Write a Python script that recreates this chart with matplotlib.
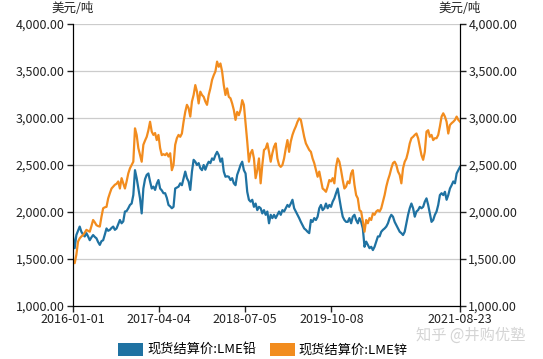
import numpy as np
import pandas as pd
import matplotlib
matplotlib.use("Agg")
import matplotlib.pyplot as plt
from matplotlib.patches import Patch
from matplotlib.ticker import FuncFormatter

plt.rcParams['font.family'] = ['Noto Sans CJK SC', 'DejaVu Sans']

# LME spot settlement price, USD/t (evenly spaced samples)
lead = [1740, 1615, 1755, 1800, 1845, 1790, 1760, 1740, 1775, 1740, 1700, 1730, 1755, 1735,
        1720, 1680, 1650, 1690, 1700, 1760, 1825, 1800, 1810, 1830, 1845, 1810, 1825, 1870,
        1915, 1880, 1900, 2005, 2010, 2040, 2075, 2090, 2180, 2445, 2360, 2250, 2145, 1985,
        2250, 2350, 2395, 2410, 2325, 2250, 2270, 2235, 2300, 2340, 2250, 2230, 2200,
        2200, 2150, 2075, 2060, 2040, 2055, 2250, 2260, 2270, 2305, 2285, 2360, 2430, 2360,
        2325, 2235, 2430, 2555, 2535, 2500, 2520, 2465, 2445, 2500, 2450, 2500, 2535, 2520,
        2570, 2555, 2605, 2640, 2605, 2535, 2570, 2430, 2375, 2380, 2375, 2340, 2360, 2305,
        2285, 2395, 2445, 2500, 2535, 2445, 2410, 2215, 2130, 2110, 2130, 2055, 2090, 2020, 2055,
        2040, 1985, 2020, 1970, 2005, 1880, 1970, 1935, 1970, 1935, 1970, 2005, 1970, 2020,
        2005, 2040, 2075, 2055, 2090, 2130, 2040, 2005, 1970, 1935, 1895, 1860, 1825, 1810,
        1790, 1775, 1915, 1895, 1935, 1915, 1950, 2040, 2075, 2020, 2040, 2090, 2040, 2075,
        2055, 2110, 2145, 2200, 2250, 2145, 2040, 1950, 1915, 1895, 1895, 1935, 1880, 1950, 1970,
        1915, 1880, 1935, 1895, 1825, 1630, 1685, 1650, 1615, 1630, 1595, 1630, 1685, 1740,
        1740, 1790, 1810, 1825, 1845, 1880, 1935, 1970, 1950, 1895, 1860, 1825, 1790, 1775,
        1755, 1790, 1880, 1970, 2040, 2090, 2040, 1950, 2005, 2020, 2055, 2040, 2055, 2110,
        2145, 2075, 1985, 1895, 1915, 1970, 2005, 2075, 2180, 2200, 2180, 2215, 2130, 2180,
        2250, 2285, 2325, 2305, 2410, 2445, 2480]

zinc = [1490, 1455, 1545, 1685, 1720, 1740, 1755, 1780, 1810, 1800, 1790, 1850, 1915, 1890,
        1860, 1850, 1845, 1950, 2040, 2050, 2055, 2145, 2200, 2250, 2270, 2290, 2300, 2325,
        2250, 2360, 2305, 2250, 2325, 2410, 2465, 2500, 2535, 2890, 2820, 2680, 2605, 2535,
        2715, 2760, 2800, 2870, 2960, 2855, 2820, 2840, 2765, 2820, 2680, 2605, 2615,
        2605, 2625, 2590, 2625, 2445, 2500, 2715, 2785, 2820, 2800, 2835, 2960, 3065, 3140,
        3105, 3015, 3175, 3245, 3350, 3280, 3155, 3280, 3245, 3225, 3175, 3140, 3245, 3315,
        3405, 3455, 3495, 3600, 3545, 3580, 3495, 3350, 3245, 3315, 3225, 3210, 3155, 3085,
        2980, 3065, 3030, 3085, 3190, 3140, 2945, 2750, 2535, 2625, 2660, 2570, 2360, 2445, 2570,
        2305, 2500, 2660, 2675, 2730, 2640, 2535, 2625, 2695, 2730, 2570, 2500, 2480, 2500,
        2570, 2675, 2765, 2640, 2750, 2820, 2870, 2910, 2960, 2995, 2980, 2890, 2800, 2730,
        2695, 2660, 2640, 2570, 2520, 2445, 2375, 2430, 2340, 2250, 2235, 2215, 2270, 2340,
        2325, 2360, 2305, 2480, 2570, 2535, 2445, 2340, 2250, 2270, 2325, 2305, 2410, 2445, 2290,
        2180, 2145, 2020, 2005, 1895, 1790, 1915, 1880, 1935, 1915, 1985, 1970, 2005, 2020,
        2005, 2040, 2110, 2180, 2270, 2340, 2395, 2465, 2520, 2535, 2500, 2430, 2395, 2305,
        2465, 2535, 2570, 2640, 2730, 2785, 2800, 2820, 2835, 2785, 2695, 2605, 2555, 2640,
        2855, 2870, 2800, 2820, 2765, 2785, 2785, 2820, 2910, 3015, 3050, 3015, 2960, 2835,
        2925, 2945, 2960, 2980, 3015, 2980, 2960]

start, end = "2016-01-01", "2021-08-23"
dates = pd.date_range(start, end, periods=len(lead))
tick_labels = ["2016-01-01", "2017-04-04", "2018-07-05", "2019-10-08", "2021-08-23"]
series_names = ["现货结算价:LME铅", "现货结算价:LME锌"]
colors = ["#1f72a2", "#f28c1e"]
unit = "美元/吨"

fig = plt.figure(figsize=(5.43, 3.59), dpi=100)
ax = fig.add_axes([73 / 543, 1 - 306 / 359, 387 / 543, 282 / 359])
ax2 = ax.twinx()

ax.plot(dates, lead, color=colors[0], lw=1.6, zorder=3)
ax.plot(dates, zinc, color=colors[1], lw=1.6, zorder=3)

fmt = FuncFormatter(lambda v, p: f"{v:,.2f}")
for a in (ax, ax2):
    a.set_ylim(1000, 4000)
    a.set_yticks(np.arange(1000, 4001, 500))
    a.yaxis.set_major_formatter(fmt)
    a.tick_params(axis='y', length=4, width=1, labelsize=9, colors='#222222', pad=2)
    a.spines["top"].set_visible(False)
    a.spines["left"].set_color("black")
    a.spines["right"].set_color("black")
    a.spines["bottom"].set_color("black")

ax.yaxis.grid(True, color="#cccccc", lw=0.9)
ax.set_axisbelow(True)

ax.set_xlim(pd.Timestamp(start), pd.Timestamp(end))
ax.set_xticks(pd.to_datetime(tick_labels))
ax.set_xticklabels(tick_labels)
ax.tick_params(axis='x', length=4, width=1, labelsize=9, colors='#222222', pad=1)

fig.text(73 / 543, 1 - 8 / 359, unit, ha='center', va='center', fontsize=9, color='#222222')
fig.text(460 / 543, 1 - 8 / 359, unit, ha='center', va='center', fontsize=9, color='#222222')

handles = [Patch(facecolor=c, edgecolor='none') for c in colors]
fig.legend(handles, series_names, loc='center', bbox_to_anchor=(263 / 543, 1 - 350 / 359),
           ncol=2, frameon=False, fontsize=9.5, handlelength=1.9, handleheight=1.1,
           handletextpad=0.3, columnspacing=1.0, borderaxespad=0)

fig.text(471 / 543, 1 - 335 / 359, "知乎 @井购优塾", ha='center', va='center',
         fontsize=11, color='#d4d4d4')

fig.savefig("out.png", dpi=100)
